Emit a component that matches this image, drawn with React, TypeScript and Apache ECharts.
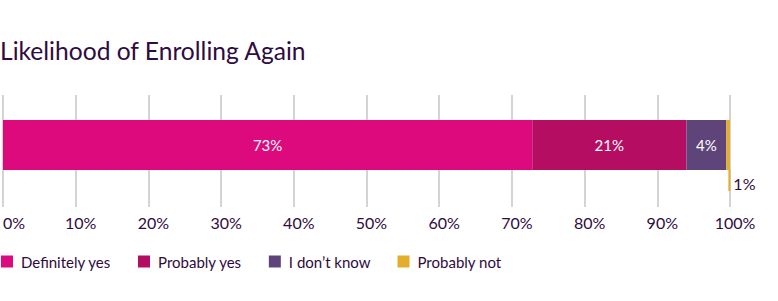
import React, { useEffect, useRef } from "react";
import * as echarts from "echarts";

const categories = ["Likelihood"];
const seriesNames = ["Definitely yes", "Probably yes", "I don\u2019t know", "Probably not"];
const seriesValues = [72.8, 21.2, 5.5, 0.5];
const seriesLabels = ["73%", "21%", "4%", "1%"];
const seriesColors = ["#DC0A7C", "#B50D62", "#5F4479", "#E3AE2E"];
const tickValues = [0, 10, 20, 30, 40, 50, 60, 70, 80, 90, 100];

const FONT = "Lato, 'Open Sans', sans-serif";
const TEXT = "#2E0B40";

export default function App() {
  const ref = useRef<HTMLDivElement>(null);
  useEffect(() => {
    if (!ref.current) return;
    const chart = echarts.init(ref.current, undefined, { renderer: "svg" });
    const series = seriesNames.map((name, i) => {
      const isLast = i === seriesNames.length - 1;
      return {
        name,
        type: "bar",
        stack: "total",
        barWidth: 50,
        data: [seriesValues[i]],
        itemStyle: { color: seriesColors[i] },
        label: isLast
          ? {
              show: true,
              position: [2, 50],
              align: "left",
              verticalAlign: "top",
              formatter: "{bar|}{t|" + seriesLabels[i] + "}",
              rich: {
                bar: { width: 2, height: 21, backgroundColor: seriesColors[i] },
                t: {
                  fontFamily: FONT,
                  fontSize: 16,
                  color: TEXT,
                  padding: [0, 0, 0, 3],
                  verticalAlign: "bottom",
                  lineHeight: 14,
                },
              },
            }
          : {
              show: true,
              position: "inside",
              color: "#ffffff",
              fontFamily: FONT,
              fontSize: 15,
              formatter: seriesLabels[i],
            },
      };
    });
    chart.setOption({
      animation: false,
      title: {
        text: "Likelihood of Enrolling Again",
        left: 0,
        top: 38,
        padding: 0,
        textStyle: { fontFamily: FONT, fontSize: 24.6, fontWeight: "normal", color: TEXT },
      },
      legend: {
        left: 1,
        top: 254,
        padding: 0,
        icon: "rect",
        itemWidth: 12,
        itemHeight: 12,
        itemGap: 27,
        data: seriesNames,
        textStyle: { fontFamily: FONT, fontSize: 15, color: TEXT, padding: [0, 0, 0, 3] },
      },
      grid: { left: 2, right: 48, top: 95, height: 100 },
      xAxis: {
        type: "value",
        min: tickValues[0],
        max: tickValues[tickValues.length - 1],
        interval: 10,
        axisLine: { show: false },
        axisTick: { show: true, length: 12, lineStyle: { color: "#D4D4D4", width: 2 } },
        splitLine: { show: true, lineStyle: { color: "#D4D4D4", width: 2 } },
        axisLabel: {
          margin: 19,
          alignMinLabel: "left",
          formatter: (v: number) => (v === 0 ? "{a|0%}" : "{b|" + v + "%}"),
          rich: {
            a: { fontFamily: FONT, fontSize: 16, color: TEXT },
            b: { fontFamily: FONT, fontSize: 16, color: TEXT, padding: [0, 0, 0, 10] },
          },
        },
      },
      yAxis: {
        type: "category",
        data: categories,
        show: false,
      },
      series,
    });
    return () => chart.dispose();
  }, []);
  return <div ref={ref} style={{ width: 778, height: 301, position: "absolute", left: 0, top: 0 }} />;
}
